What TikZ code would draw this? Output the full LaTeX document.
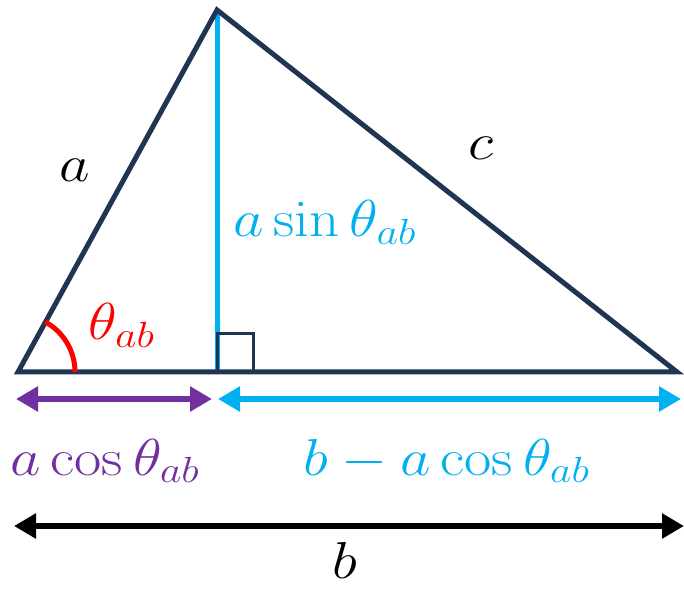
\documentclass[tikz,border=0pt]{standalone}
\usepackage{fix-cm}
\usepackage{xcolor}
\usepackage{tikz}
\usetikzlibrary{arrows.meta, positioning, calc}
\definecolor{edgeNavy}{HTML}{1F3552}
\definecolor{heightCyan}{HTML}{00B0F0}
\definecolor{projPurple}{HTML}{7030A0}
\definecolor{angleRed}{HTML}{FF0000}

\begin{document}
\begin{tikzpicture}[x=1pt, y=1pt,
    side/.style={
        draw=edgeNavy, line width=5pt, line join=miter,
    },
    heightline/.style={
        draw=heightCyan, line width=5pt,
    },
    rightmark/.style={
        draw=edgeNavy, line width=3pt,
    },
    anglearc/.style={
        draw=angleRed, line width=5pt,
    },
    dimarrow/.style={
        draw=#1, line width=5.5pt,
        {Triangle[length=22pt, width=24pt]}-{Triangle[length=22pt, width=24pt]},
    },
    mathlabel/.style={
        font=\fontsize{52}{62}\selectfont, text=#1, inner sep=0pt,
        xscale=1.14, transform shape,
    },
]

\useasboundingbox (0, 0) rectangle (684, 589);

% ── Vertices ──────────────────────────────────────────────────────────
\coordinate (A) at (18, 217);
\coordinate (B) at (217, 579);
\coordinate (C) at (677, 217);
\coordinate (F) at (217, 217);

% ── Height and right angle ────────────────────────────────────────────
\draw[heightline] (B) -- (F);
\draw[rightmark] (F) -- ++(0, 38) -- ++(36, 0) -- ++(0, -38);

% ── Triangle ──────────────────────────────────────────────────────────
\draw[side] (A) -- (B) -- (C) -- cycle;

% ── Angle at A ────────────────────────────────────────────────────────
\draw[anglearc] ($(A)+(57, 0)$) arc[start angle=0, end angle=61.2, radius=57];

% ── Dimension arrows ──────────────────────────────────────────────────
\coordinate (pL) at (16, 190);
\coordinate (pR) at (212, 190);
\coordinate (qL) at (218, 190);
\coordinate (qR) at (681, 190);
\coordinate (bL) at (14, 63);
\coordinate (bR) at (684, 63);

\draw[dimarrow=projPurple] (pL) -- (pR);
\draw[dimarrow=heightCyan] (qL) -- (qR);
\draw[dimarrow=black] (bL) -- (bR);

% ── Labels ────────────────────────────────────────────────────────────
\node[mathlabel=black] (sideA) at (75, 419) {$a$};
\node[mathlabel=black] (sideC) at (481, 441) {$c$};
\node[mathlabel=heightCyan, anchor=base west] (hLabel) at (233, 352) {$a\sin\theta_{ab}$};
\node[mathlabel=angleRed, anchor=base west] (angLabel) at (88, 249) {$\theta_{ab}$};
\node[mathlabel=projPurple, anchor=base west] (pLabel) at (10, 114) {$a\cos\theta_{ab}$};
\node[mathlabel=heightCyan, anchor=base west] (qLabel) at (303, 114) {$b-a\cos\theta_{ab}$};
\node[mathlabel=black, anchor=base] (bLabel) at (345, 11) {$b$};

\end{tikzpicture}
\end{document}
